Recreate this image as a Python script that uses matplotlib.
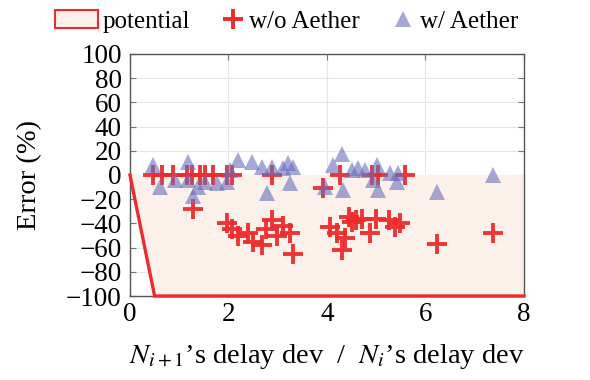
import matplotlib
matplotlib.use('Agg')
import matplotlib.pyplot as plt
from matplotlib.patches import Patch
from matplotlib.lines import Line2D

plt.rcParams['font.family'] = 'Liberation Serif'
plt.rcParams['mathtext.fontset'] = 'stix'

# potential region boundary
potential_x = [0, 0.5, 8]
potential_y = [0, -100, -100]

# w/o Aether
wo_x = [0.47, 0.65, 0.87, 1.16, 1.26, 1.42, 1.52, 1.68, 1.97, 2.07, 2.88, 4.27, 4.91, 5.04, 5.58,
        1.28, 3.92,
        1.97, 2.08, 2.2, 2.4, 2.5, 2.68, 2.77, 2.88, 2.98, 3.1, 3.25, 3.32,
        4.06, 4.2, 4.3, 4.37, 4.45, 4.5, 4.6, 4.72, 4.88, 5.0, 5.27, 5.38, 5.48,
        6.23, 7.37]
wo_y = [0, 0, 0, 0, 0, 0, 0, 0, 0, 0, 0, 0, 0, 0, 0,
        -28, -11,
        -40, -45, -50, -48, -55, -58, -45, -37, -50, -42, -48, -65,
        -43, -48, -62, -52, -35, -39, -37, -36, -48, -36, -37, -43, -40,
        -57, -48]

# w/ Aether
w_x = [0.47, 0.61, 0.91, 1.18, 1.18, 1.28, 1.38, 1.52, 1.77, 1.97, 2.03, 2.19, 2.48, 2.68,
       2.78, 2.88, 3.1, 3.2, 3.25, 3.31, 3.96, 4.12, 4.3, 4.33, 4.5, 4.63, 4.77, 5.02,
       4.93, 5.04, 5.28, 5.44, 5.42, 6.23, 7.37]
w_y = [8, -10, -4, 11, -4, -17, -10, -6, -7, -6, 4, 12, 11, 7,
       -15, 7, 6, 10, -7, 7, -10, 8, 17, -12, 4, 6, 4, 8,
       -4, -12, 2, 2, -6, -14, 0]

labels = ['potential', 'w/o Aether', 'w/ Aether']

red = '#ee2b2b'
peach = '#fcf1ea'
blue = '#696ebc'

fig = plt.figure(figsize=(5.9, 3.8), dpi=100)
ax = fig.add_axes([0.2203, 0.221, 0.6677, 0.637])

ax.fill_between(potential_x, potential_y, 0, facecolor=peach, edgecolor='none', zorder=1)
ax.plot(potential_x, potential_y, color=red, lw=2.4, zorder=5, clip_on=False,
        solid_joinstyle='miter')

ax.plot(wo_x, wo_y, linestyle='none', marker='+', ms=15, mew=2.8, color=red,
        alpha=0.95, zorder=3)
ax.plot(w_x, w_y, linestyle='none', marker='^', ms=12, color=blue, alpha=0.6,
        markeredgewidth=0, zorder=4)

ax.set_xlim(0, 8)
ax.set_ylim(-100, 100)
ax.set_xticks([0, 2, 4, 6, 8])
ax.set_yticks(range(-100, 101, 20))
ax.grid(True, color='#e6e6e6', lw=0.8, zorder=0)
ax.set_axisbelow(True)
ax.tick_params(direction='in', top=True, right=True, labelsize=19.5, length=4,
               color='#777777')
ax.tick_params(axis='x', pad=4)
ax.tick_params(axis='y', pad=6)
for s in ax.spines.values():
    s.set_color('#555555')
    s.set_linewidth(1.0)

ax.set_xlabel(r"$N_{i+1}$’s delay dev  /  $N_i$’s delay dev", fontsize=20.5, labelpad=11)
ax.set_ylabel("Error (%)", fontsize=20.5, labelpad=17)

# legend entries placed one by one along the top
handles = [
    Patch(facecolor=peach, edgecolor=red, lw=1.5),
    Line2D([], [], linestyle='none', marker='+', ms=15, mew=2.8, color=red),
    Line2D([], [], linestyle='none', marker='^', ms=11, color=blue, alpha=0.6, markeredgewidth=0),
]
starts = [55 / 590, 222 / 590, 391 / 590]
hlens = [1.7, 0.87, 0.96]
for h, lab, x0, hl in zip(handles, labels, starts, hlens):
    fig.legend([h], [lab], loc='center left', bbox_to_anchor=(x0, 0.943),
               frameon=False, fontsize=18, handlelength=hl, handletextpad=0.2,
               borderpad=0, borderaxespad=0)

fig.savefig('out.png', dpi=100)
